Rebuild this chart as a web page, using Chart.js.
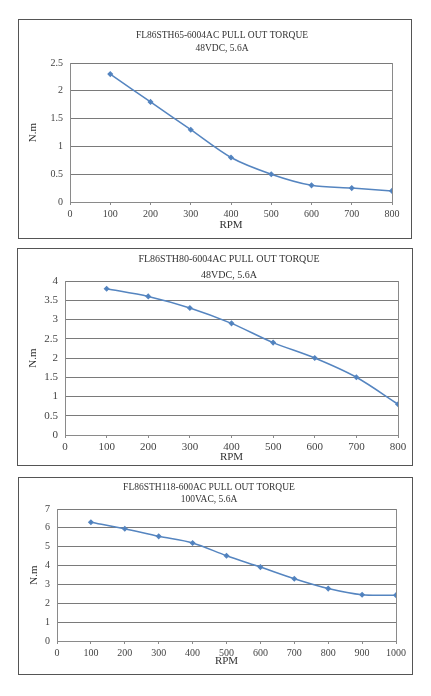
<!DOCTYPE html>
<html>
<head>
<meta charset="utf-8">
<script src="https://cdn.jsdelivr.net/npm/chart.js@4.4.0/dist/chart.umd.min.js"></script>
<style>
  html, body { margin: 0; padding: 0; background: #fff; }
  body { width: 431px; height: 696px; position: relative; overflow: hidden; }
  .box { position: absolute; border: 1px solid #555; box-sizing: border-box; }
  .box canvas { position: absolute; left: 0; top: 0; }
</style>
</head>
<body>
<div class="box" id="b1"><canvas id="c1"></canvas></div>
<div class="box" id="b2"><canvas id="c2"></canvas></div>
<div class="box" id="b3"><canvas id="c3"></canvas></div>
<script>
// ---- data ----
const rpm1 = [100, 200, 300, 400, 500, 600, 700, 800];
const torque1 = [2.3, 1.8, 1.3, 0.8, 0.5, 0.3, 0.25, 0.2];
const title1 = ["FL86STH65-6004AC PULL OUT TORQUE", "48VDC, 5.6A"];

const rpm2 = [100, 200, 300, 400, 500, 600, 700, 800];
const torque2 = [3.8, 3.6, 3.3, 2.9, 2.4, 2.0, 1.5, 0.8];
const title2 = ["FL86STH80-6004AC PULL OUT TORQUE", "48VDC, 5.6A"];

const rpm3 = [100, 200, 300, 400, 500, 600, 700, 800, 900, 1000];
const torque3 = [6.3, 5.95, 5.55, 5.2, 4.52, 3.92, 3.3, 2.78, 2.45, 2.43];
const title3 = ["FL86STH118-600AC PULL OUT TORQUE", "100VAC, 5.6A"];

const xTitle = "RPM";
const yTitle = "N.m";

// ---- layout (separate from data) ----
const FONT = '"Liberation Serif", "DejaVu Serif", serif';
const layouts = [
  { box: [18, 19, 394, 220], plotLeft: 51, plotTop: 43, rightPad: 19, bottomSpace: 36,
    titleX: 203, titleY: [15, 28], titleSize: 9.5, tickSize: 10, xMax: 800, yMax: 2.5, yStep: 0.5,
    xTitlePad: 6, yTitlePad: 8, xTickPad: 3 },
  { box: [17, 248, 396, 218], plotLeft: 47, plotTop: 32, rightPad: 14, bottomSpace: 30,
    titleX: 211, titleY: [10, 26], titleSize: 10, tickSize: 11, xMax: 800, yMax: 4, yStep: 0.5,
    xTitlePad: 1, yTitlePad: 9, xTickPad: 3 },
  { box: [18, 477, 395, 198], plotLeft: 38, plotTop: 31, rightPad: 16, bottomSpace: 33,
    titleX: 190, titleY: [9, 21], titleSize: 9.5, tickSize: 10, xMax: 1000, yMax: 7, yStep: 1,
    xTitlePad: 6, yTitlePad: 9, xTickPad: 3 }
];

function build(idx, xs, ys, title) {
  const L = layouts[idx];
  const n = idx + 1;
  const box = document.getElementById('b' + n);
  const [bx, by, bw, bh] = L.box;
  box.style.left = bx + 'px'; box.style.top = by + 'px';
  box.style.width = bw + 'px'; box.style.height = bh + 'px';
  const cv = document.getElementById('c' + n);
  cv.style.width = (bw - 2) + 'px'; cv.style.height = (bh - 2) + 'px';
  cv.width = bw - 2; cv.height = bh - 2;

  const frame = {
    id: 'frame' + n,
    afterDraw(chart) {
      const { ctx, chartArea: a } = chart;
      ctx.save();
      ctx.strokeStyle = '#8a8a8a';
      ctx.lineWidth = 1;
      ctx.beginPath();
      ctx.moveTo(Math.round(a.right) + 0.5, a.top);
      ctx.lineTo(Math.round(a.right) + 0.5, a.bottom);
      ctx.stroke();
      ctx.fillStyle = '#333';
      ctx.textAlign = 'center';
      ctx.textBaseline = 'middle';
      ctx.font = L.titleSize + 'px ' + FONT;
      title.forEach((t, i) => ctx.fillText(t, L.titleX, L.titleY[i]));
      ctx.restore();
    }
  };

  new Chart(cv, {
    type: 'line',
    data: {
      datasets: [{
        data: xs.map((x, i) => ({ x: x, y: ys[i] })),
        borderColor: '#5585c0',
        backgroundColor: '#4a7ebb',
        borderWidth: 1.5,
        tension: 0.3,
        pointStyle: 'rectRot',
        pointRadius: 2,
        pointHoverRadius: 2
      }]
    },
    options: {
      responsive: false,
      animation: false,
      events: [],
      layout: { padding: { left: 0, top: L.plotTop, right: L.rightPad, bottom: 0 } },
      plugins: { legend: { display: false }, tooltip: { enabled: false }, title: { display: false } },
      scales: {
        x: {
          type: 'linear', min: 0, max: L.xMax,
          afterFit(s) { s.height = L.bottomSpace; },
          ticks: { stepSize: 100, color: '#444', padding: L.xTickPad, maxRotation: 0,
                   callback: v => String(v),
                   font: { family: FONT, size: L.tickSize } },
          grid: { drawOnChartArea: false, drawTicks: true, tickLength: 3, color: '#8a8a8a' },
          border: { display: true, color: '#8a8a8a', width: 1 },
          title: { display: true, text: xTitle, color: '#333', padding: { top: 0, bottom: L.xTitlePad },
                   font: { family: FONT, size: 11 } }
        },
        y: {
          type: 'linear', min: 0, max: L.yMax,
          afterFit(s) { s.width = L.plotLeft; },
          ticks: { stepSize: L.yStep, color: '#444', padding: 7,
                   callback: v => String(v),
                   font: { family: FONT, size: L.tickSize } },
          grid: { drawTicks: false, color: '#7a7a7a', lineWidth: 1 },
          border: { display: true, color: '#8a8a8a', width: 1 },
          title: { display: true, text: yTitle, color: '#333', padding: { top: L.yTitlePad, bottom: 0 },
                   font: { family: FONT, size: 11 } }
        }
      }
    },
    plugins: [frame]
  });
}

build(0, rpm1, torque1, title1);
build(1, rpm2, torque2, title2);
build(2, rpm3, torque3, title3);
</script>
</body>
</html>
